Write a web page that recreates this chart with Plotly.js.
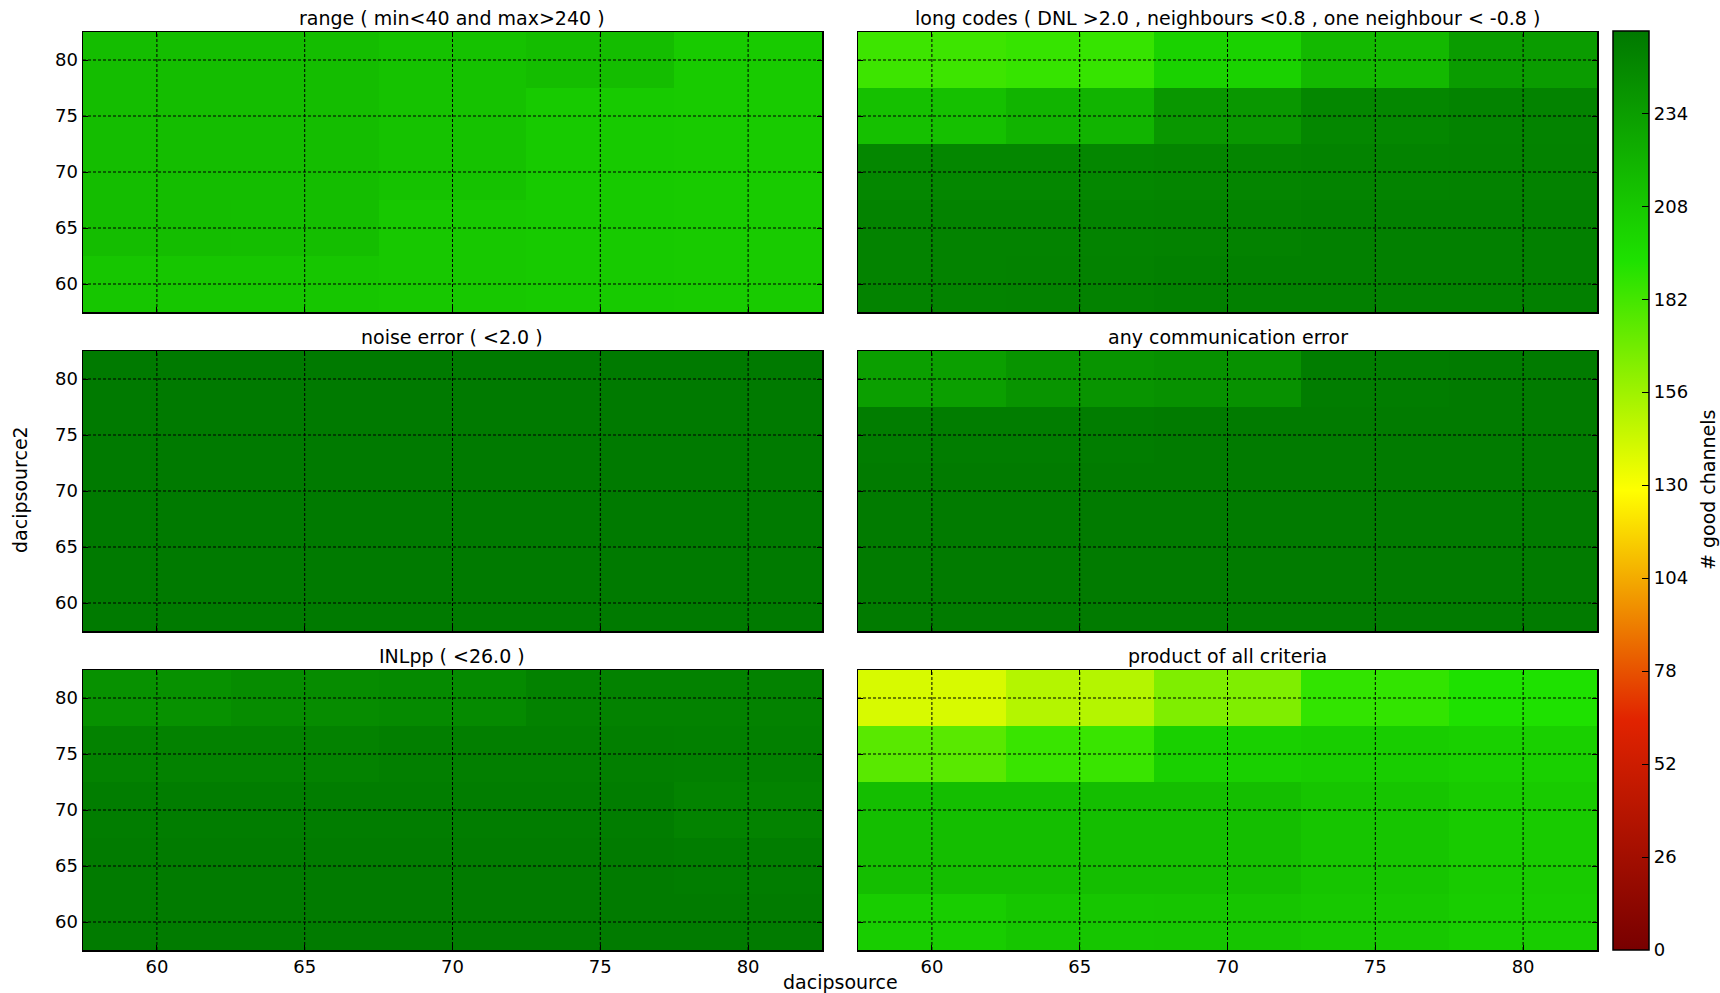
<!DOCTYPE html>
<html>
<head>
<meta charset="utf-8">
<script src="https://cdn.plot.ly/plotly-3.0.1.min.js"></script>
<style>html,body{margin:0;padding:0;background:#fff;}#chart{width:1720px;height:993px;}</style>
</head>
<body>
<div id="chart"></div>
<script>
// ---- data ----
const dacipsource = [60, 65, 70, 75, 80];
const dacipsource2 = [60, 65, 70, 75, 80];
const colorbarTicks = [0, 26, 52, 78, 104, 130, 156, 182, 208, 234];

const panelTitles = [
  "range ( min<40 and max>240 )",
  "long codes ( DNL >2.0 , neighbours <0.8 , one neighbour < -0.8 )",
  "noise error ( <2.0 )",
  "any communication error",
  "INLpp ( <26.0 )",
  "product of all criteria"
];

// rows: dacipsource2 = 60, 65, 70, 75, 80 ; columns: dacipsource = 60 ... 80
const rangeGood = [
  [209, 209, 208, 207, 206],
  [215, 214, 208, 207, 206],
  [215, 215, 212, 207, 206],
  [215, 215, 212, 207, 206],
  [215, 215, 212, 215, 206]
];
const longCodesGood = [
  [250, 251, 252, 252, 252],
  [250, 250, 251, 252, 252],
  [248, 248, 249, 250, 251],
  [213, 220, 238, 248, 250],
  [184, 186, 202, 217, 235]
];
const noiseGood = [
  [256, 256, 256, 256, 256],
  [256, 256, 256, 256, 256],
  [256, 256, 256, 256, 256],
  [256, 256, 256, 256, 256],
  [256, 256, 256, 256, 256]
];
const commGood = [
  [255, 255, 255, 255, 255],
  [255, 255, 255, 255, 255],
  [255, 255, 255, 255, 255],
  [254, 254, 255, 255, 255],
  [233, 240, 242, 254, 255]
];
const inlGood = [
  [255, 255, 255, 255, 255],
  [255, 255, 255, 255, 254],
  [254, 254, 254, 254, 250],
  [251, 251, 253, 253, 252],
  [242, 245, 246, 251, 251]
];
const productGood = [
  [205, 209, 210, 208, 205],
  [214, 214, 214, 210, 206],
  [214, 214, 214, 210, 206],
  [176, 185, 203, 205, 203],
  [140, 150, 165, 187, 193]
];
const panelData = [rangeGood, longCodesGood, noiseGood, commGood, inlGood, productGood];

// ---- layout geometry ----
const W = 1720, H = 993;
const xDomains = [[83 / W, 822 / W], [858 / W, 1597 / W]];
const yDomains = [[1 - 312 / H, 1 - 32 / H], [1 - 631 / H, 1 - 351 / H], [1 - 950 / H, 1 - 670 / H]];
const FONT = "DejaVu Sans, Verdana, sans-serif";

const colorscale = [
  [0.0, "rgb(120,0,0)"],
  [0.25, "rgb(225,35,0)"],
  [0.5, "rgb(255,255,0)"],
  [0.75, "rgb(30,225,0)"],
  [1.0, "rgb(0,120,0)"]
];

const traces = [];
const shapes = [];
const annotations = [];
const layout = {
  width: W, height: H,
  margin: {l: 0, r: 0, t: 0, b: 0, autoexpand: false},
  paper_bgcolor: "white", plot_bgcolor: "white",
  showlegend: false,
  font: {family: FONT, size: 18, color: "black"},
  coloraxis: {
    cmin: 0, cmax: 257,
    colorscale: colorscale,
    colorbar: {
      x: 1613 / W, xanchor: "left", xpad: 0,
      y: 43 / H, yanchor: "bottom", ypad: 0,
      len: 919 / H, lenmode: "fraction",
      thickness: 36, thicknessmode: "pixels",
      outlinecolor: "black", outlinewidth: 1.5,
      tickvals: colorbarTicks,
      ticks: "inside", ticklen: 7, tickcolor: "black", tickwidth: 1,
      tickfont: {family: FONT, size: 18, color: "black"}
    }
  }
};

for (let i = 0; i < 6; i++) {
  const n = i === 0 ? "" : String(i + 1);
  const col = i % 2, row = Math.floor(i / 2);
  traces.push({
    type: "heatmap",
    x: dacipsource, y: dacipsource2, z: panelData[i],
    coloraxis: "coloraxis",
    xaxis: "x" + n, yaxis: "y" + n,
    zsmooth: false, hoverinfo: "skip"
  });
  layout["xaxis" + n] = {
    domain: xDomains[col], anchor: "y" + n,
    range: [57.5, 82.5], tickvals: dacipsource,
    showticklabels: row === 2,
    ticks: "inside", ticklen: 5, tickcolor: "black",
    showline: true, mirror: "ticks", linecolor: "black", linewidth: 1.5,
    showgrid: false, zeroline: false, fixedrange: true,
    tickfont: {family: FONT, size: 18, color: "black"}
  };
  layout["yaxis" + n] = {
    domain: yDomains[row], anchor: "x" + n,
    range: [57.5, 82.5], tickvals: dacipsource2,
    showticklabels: col === 0,
    ticks: "inside", ticklen: 5, tickcolor: "black",
    showline: true, mirror: "ticks", linecolor: "black", linewidth: 1.5,
    showgrid: false, zeroline: false, fixedrange: true,
    tickfont: {family: FONT, size: 18, color: "black"}
  };
  // grid lines drawn above the heatmap, at the tick values
  dacipsource.forEach(v => shapes.push({
    type: "line", layer: "above", xref: "x" + n, yref: "y" + n + " domain",
    x0: v, x1: v, y0: 0, y1: 1,
    line: {color: "black", width: 1, dash: "3px,2px"}
  }));
  dacipsource2.forEach(v => shapes.push({
    type: "line", layer: "above", xref: "x" + n + " domain", yref: "y" + n,
    x0: 0, x1: 1, y0: v, y1: v,
    line: {color: "black", width: 1, dash: "3px,2px"}
  }));
  annotations.push({
    text: panelTitles[i], showarrow: false,
    xref: "paper", yref: "paper",
    x: (xDomains[col][0] + xDomains[col][1]) / 2, y: yDomains[row][1],
    xanchor: "center", yanchor: "bottom", yshift: 1,
    font: {family: FONT, size: 19, color: "black"}
  });
}

annotations.push({
  text: "dacipsource", showarrow: false, xref: "paper", yref: "paper",
  x: 840 / W, y: 1 - 982 / H, xanchor: "center", yanchor: "middle",
  font: {family: FONT, size: 19, color: "black"}
});
annotations.push({
  text: "dacipsource2", showarrow: false, xref: "paper", yref: "paper",
  x: 20 / W, y: 1 - 490 / H, xanchor: "center", yanchor: "middle", textangle: -90,
  font: {family: FONT, size: 19, color: "black"}
});
annotations.push({
  text: "# good channels", showarrow: false, xref: "paper", yref: "paper",
  x: 1708 / W, y: 1 - 490 / H, xanchor: "center", yanchor: "middle", textangle: -90,
  font: {family: FONT, size: 19, color: "black"}
});

layout.shapes = shapes;
layout.annotations = annotations;

Plotly.newPlot("chart", traces, layout, {staticPlot: true, displayModeBar: false});
</script>
</body>
</html>
